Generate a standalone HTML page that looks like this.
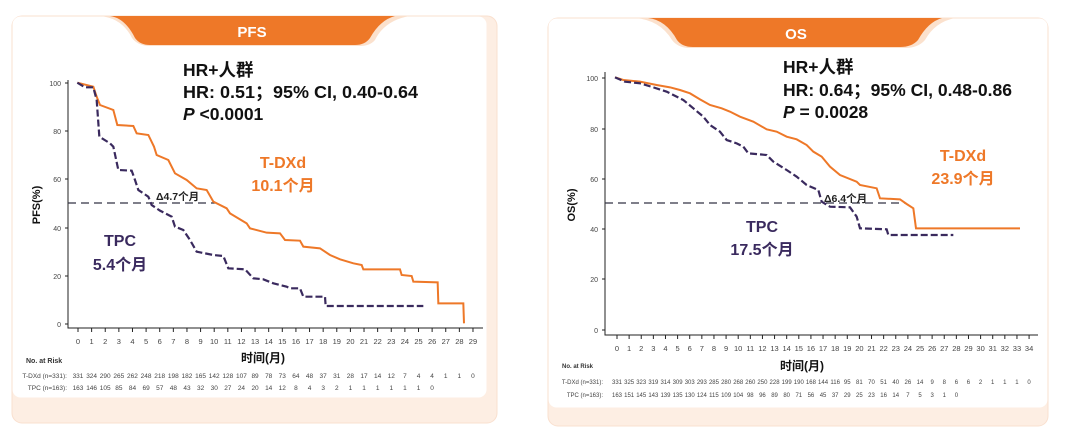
<!DOCTYPE html>
<html><head><meta charset="utf-8"><style>
body{margin:0;background:#fff;width:1080px;height:438px;overflow:hidden}
svg text{font-family:"Liberation Sans","Noto Sans CJK SC",sans-serif}
</style></head><body>
<svg width="1080" height="438" viewBox="0 0 1080 438" xmlns="http://www.w3.org/2000/svg">
<!-- Left card -->
<rect x="12" y="16" width="485" height="407" rx="10" fill="#fdeee3" stroke="#f9e0cf" stroke-width="1"/>
<rect x="12.5" y="16.5" width="474" height="381" rx="8" fill="#fff"/>
<path d="M100 16 H410 Q385 20 375 40 Q370 46 360 46 H150 Q138 46 132 38 Q122 18 100 16Z" fill="#fbe1cd"/>
<path d="M110 16 H395 Q380 20 370 38 Q365 45 355 45 H150 Q140 45 135 38 Q125 18 110 16Z" fill="#ee7828"/>
<text x="252" y="37" font-size="15" font-weight="bold" fill="#fff" text-anchor="middle">PFS</text>
<!-- Right card -->
<rect x="548" y="18" width="500" height="408" rx="10" fill="#fdeee3" stroke="#f9e0cf" stroke-width="1"/>
<rect x="548.5" y="18.5" width="499" height="389" rx="8" fill="#fff"/>
<path d="M635 18 H955 Q935 22 925 40 Q918 48 905 48 H690 Q678 48 672 40 Q660 20 635 18Z" fill="#fbe1cd"/>
<path d="M648 18 H942 Q928 22 918 40 Q912 47 900 47 H693 Q682 47 677 40 Q666 20 648 18Z" fill="#ee7828"/>
<text x="796" y="39" font-size="15" font-weight="bold" fill="#fff" text-anchor="middle">OS</text>

<!-- Left axes -->
<g stroke="#222" stroke-width="1" fill="none">
<path d="M68 80 V328 H483"/>
<path d="M65 83 H68 M65 131 H68 M65 179 H68 M65 228 H68 M65 276 H68 M65 324 H68"/>
</g>
<g font-size="7" fill="#444" text-anchor="end">
<text x="61" y="86">100</text><text x="61" y="134">80</text><text x="61" y="182">60</text><text x="61" y="231">40</text><text x="61" y="279">20</text><text x="61" y="327">0</text>
</g>
<g id="lt" font-size="7.5" fill="#444" text-anchor="middle"></g>
<text transform="translate(40,205) rotate(-90)" font-size="11" font-weight="bold" text-anchor="middle" fill="#111">PFS(%)</text>
<text x="263" y="362" font-size="12" font-weight="bold" text-anchor="middle" fill="#111">时间(月)</text>
<text x="26" y="363" font-size="7" font-weight="bold" fill="#333">No. at Risk</text>
<text x="67" y="378" font-size="6.5" fill="#444" text-anchor="end">T-DXd (n=331):</text>
<text x="67" y="390" font-size="6.5" fill="#444" text-anchor="end">TPC (n=163):</text>
<g id="lr1" font-size="6.5" fill="#444" text-anchor="middle"></g>
<g id="lr2" font-size="6.5" fill="#444" text-anchor="middle"></g>
<line x1="68" y1="203" x2="215" y2="203" stroke="#334" stroke-width="1.3" stroke-dasharray="8,5"/>
<g transform="scale(0.33333)" fill="none">
<polyline vector-effect="non-scaling-stroke" stroke="#ee7828" stroke-width="2" points="232,248 280,260 290,290 300,315 340,330 352,375 400,378 410,400 445,405 462,440 470,465 505,480 525,520 560,540 590,565 620,570 640,605 680,625 690,640 740,670 750,685 800,698 840,700 855,720 900,722 910,740 960,745 990,765 1020,778 1060,790 1085,795 1090,808 1200,808 1205,825 1235,828 1240,845 1313,847 1315,910 1390,910 1392,970"/>
<polyline vector-effect="non-scaling-stroke" stroke="#3a2a5e" stroke-width="2.2" stroke-dasharray="7,3" points="232,248 255,262 280,262 290,300 298,410 330,430 340,440 355,510 395,512 405,540 415,570 445,590 455,615 480,632 515,650 525,680 550,690 570,720 590,755 640,765 670,768 685,805 735,808 760,835 790,838 820,850 860,860 870,865 900,865 910,890 975,890 977,918 1270,918"/>
</g>
<text x="183" y="76" font-size="17.5" font-weight="bold" fill="#111">HR+人群</text>
<text x="183" y="98" font-size="17.5" font-weight="bold" fill="#111" textLength="235" lengthAdjust="spacingAndGlyphs">HR: 0.51；95% CI, 0.40-0.64</text>
<text x="183" y="120" font-size="17.5" font-weight="bold" fill="#111"><tspan font-style="italic">P</tspan> &lt;0.0001</text>
<text x="283" y="168" font-size="16" font-weight="bold" fill="#ee7828" text-anchor="middle">T-DXd</text>
<text x="283" y="191" font-size="16" font-weight="bold" fill="#ee7828" text-anchor="middle">10.1个月</text>
<text x="120" y="246" font-size="16" font-weight="bold" fill="#3a2a5e" text-anchor="middle">TPC</text>
<text x="120" y="270" font-size="16" font-weight="bold" fill="#3a2a5e" text-anchor="middle">5.4个月</text>
<text x="156" y="200" font-size="10.5" font-weight="bold" fill="#222">Δ4.7个月</text>

<!-- Right axes -->
<g stroke="#222" stroke-width="1" fill="none">
<path d="M605 72 V335 H1038"/>
<path d="M602 78 H605 M602 129 H605 M602 179 H605 M602 229 H605 M602 279 H605 M602 330 H605"/>
</g>
<g font-size="7" fill="#444" text-anchor="end">
<text x="598" y="81">100</text><text x="598" y="132">80</text><text x="598" y="182">60</text><text x="598" y="232">40</text><text x="598" y="282">20</text><text x="598" y="333">0</text>
</g>
<g id="rt" font-size="7.5" fill="#444" text-anchor="middle"></g>
<text transform="translate(575,205) rotate(-90)" font-size="11" font-weight="bold" text-anchor="middle" fill="#111">OS(%)</text>
<text x="802" y="370" font-size="12" font-weight="bold" text-anchor="middle" fill="#111">时间(月)</text>
<text x="562" y="368" font-size="6" font-weight="bold" fill="#333">No. at Risk</text>
<text x="603" y="384" font-size="6" fill="#444" text-anchor="end">T-DXd (n=331):</text>
<text x="603" y="397" font-size="6" fill="#444" text-anchor="end">TPC (n=163):</text>
<g id="rr1" font-size="6" fill="#444" text-anchor="middle"></g>
<g id="rr2" font-size="6" fill="#444" text-anchor="middle"></g>
<line x1="605" y1="203" x2="905" y2="203" stroke="#334" stroke-width="1.3" stroke-dasharray="8,5"/>
<g transform="translate(540,0) scale(0.33333)" fill="none">
<polyline vector-effect="non-scaling-stroke" stroke="#ee7828" stroke-width="2" points="225,232 250,240 300,245 350,255 390,262 420,270 450,280 480,298 510,315 545,325 570,335 600,350 640,365 680,388 710,395 740,410 770,418 800,435 820,455 845,470 870,500 900,525 950,545 960,555 1010,565 1020,595 1080,598 1100,612 1120,625 1128,685 1440,685"/>
<polyline vector-effect="non-scaling-stroke" stroke="#3a2a5e" stroke-width="2.2" stroke-dasharray="7,3" points="225,232 255,245 300,250 340,262 380,275 400,285 430,300 460,325 490,350 510,375 540,395 560,420 590,430 610,440 625,460 680,465 700,485 740,510 770,530 800,555 835,570 845,605 870,620 930,622 950,650 960,685 1040,688 1045,705 1240,705"/>
</g>
<text x="783" y="73" font-size="17.5" font-weight="bold" fill="#111">HR+人群</text>
<text x="783" y="96" font-size="17.5" font-weight="bold" fill="#111" textLength="229" lengthAdjust="spacingAndGlyphs">HR: 0.64；95% CI, 0.48-0.86</text>
<text x="783" y="118" font-size="17.5" font-weight="bold" fill="#111"><tspan font-style="italic">P</tspan> = 0.0028</text>
<text x="963" y="161" font-size="16" font-weight="bold" fill="#ee7828" text-anchor="middle">T-DXd</text>
<text x="963" y="184" font-size="16" font-weight="bold" fill="#ee7828" text-anchor="middle">23.9个月</text>
<text x="762" y="232" font-size="16" font-weight="bold" fill="#3a2a5e" text-anchor="middle">TPC</text>
<text x="762" y="255" font-size="16" font-weight="bold" fill="#3a2a5e" text-anchor="middle">17.5个月</text>
<text x="824" y="202" font-size="10.5" font-weight="bold" fill="#222">Δ6.4个月</text>
</svg>
<script>
var NS="http://www.w3.org/2000/svg";
function add(id,x,y,t){var e=document.createElementNS(NS,"text");e.setAttribute("x",x);e.setAttribute("y",y);e.textContent=t;document.getElementById(id).appendChild(e);}
function tick(x,y1,y2){var l=document.createElementNS(NS,"line");l.setAttribute("x1",x);l.setAttribute("x2",x);l.setAttribute("y1",y1);l.setAttribute("y2",y2);l.setAttribute("stroke","#222");document.querySelector("svg").appendChild(l);}
var a="331 324 290 265 262 248 218 198 182 165 142 128 107 89 78 73 64 48 37 31 28 17 14 12 7 4 4 1 1 0".split(" ");
var b="163 146 105 85 84 69 57 48 43 32 30 27 24 20 14 12 8 4 3 2 1 1 1 1 1 1 0".split(" ");
for(var m=0;m<30;m++){var x=78+13.62*m;add("lt",x,344,m);tick(x,328,332);if(a[m])add("lr1",x,378,a[m]);if(m<b.length)add("lr2",x,390,b[m]);}
var c="331 325 323 319 314 309 303 293 285 280 268 260 250 228 199 190 168 144 116 95 81 70 51 40 26 14 9 8 6 6 2 1 1 1 0".split(" ");
var d="163 151 145 143 139 135 130 124 115 109 104 98 96 89 80 71 56 45 37 29 25 23 16 14 7 5 3 1 0".split(" ");
for(var m=0;m<35;m++){var x=617+12.12*m;add("rt",x,351,m);tick(x,335,339);if(c[m])add("rr1",x,384,c[m]);if(m<d.length)add("rr2",x,397,d[m]);}
</script>
</body></html>
